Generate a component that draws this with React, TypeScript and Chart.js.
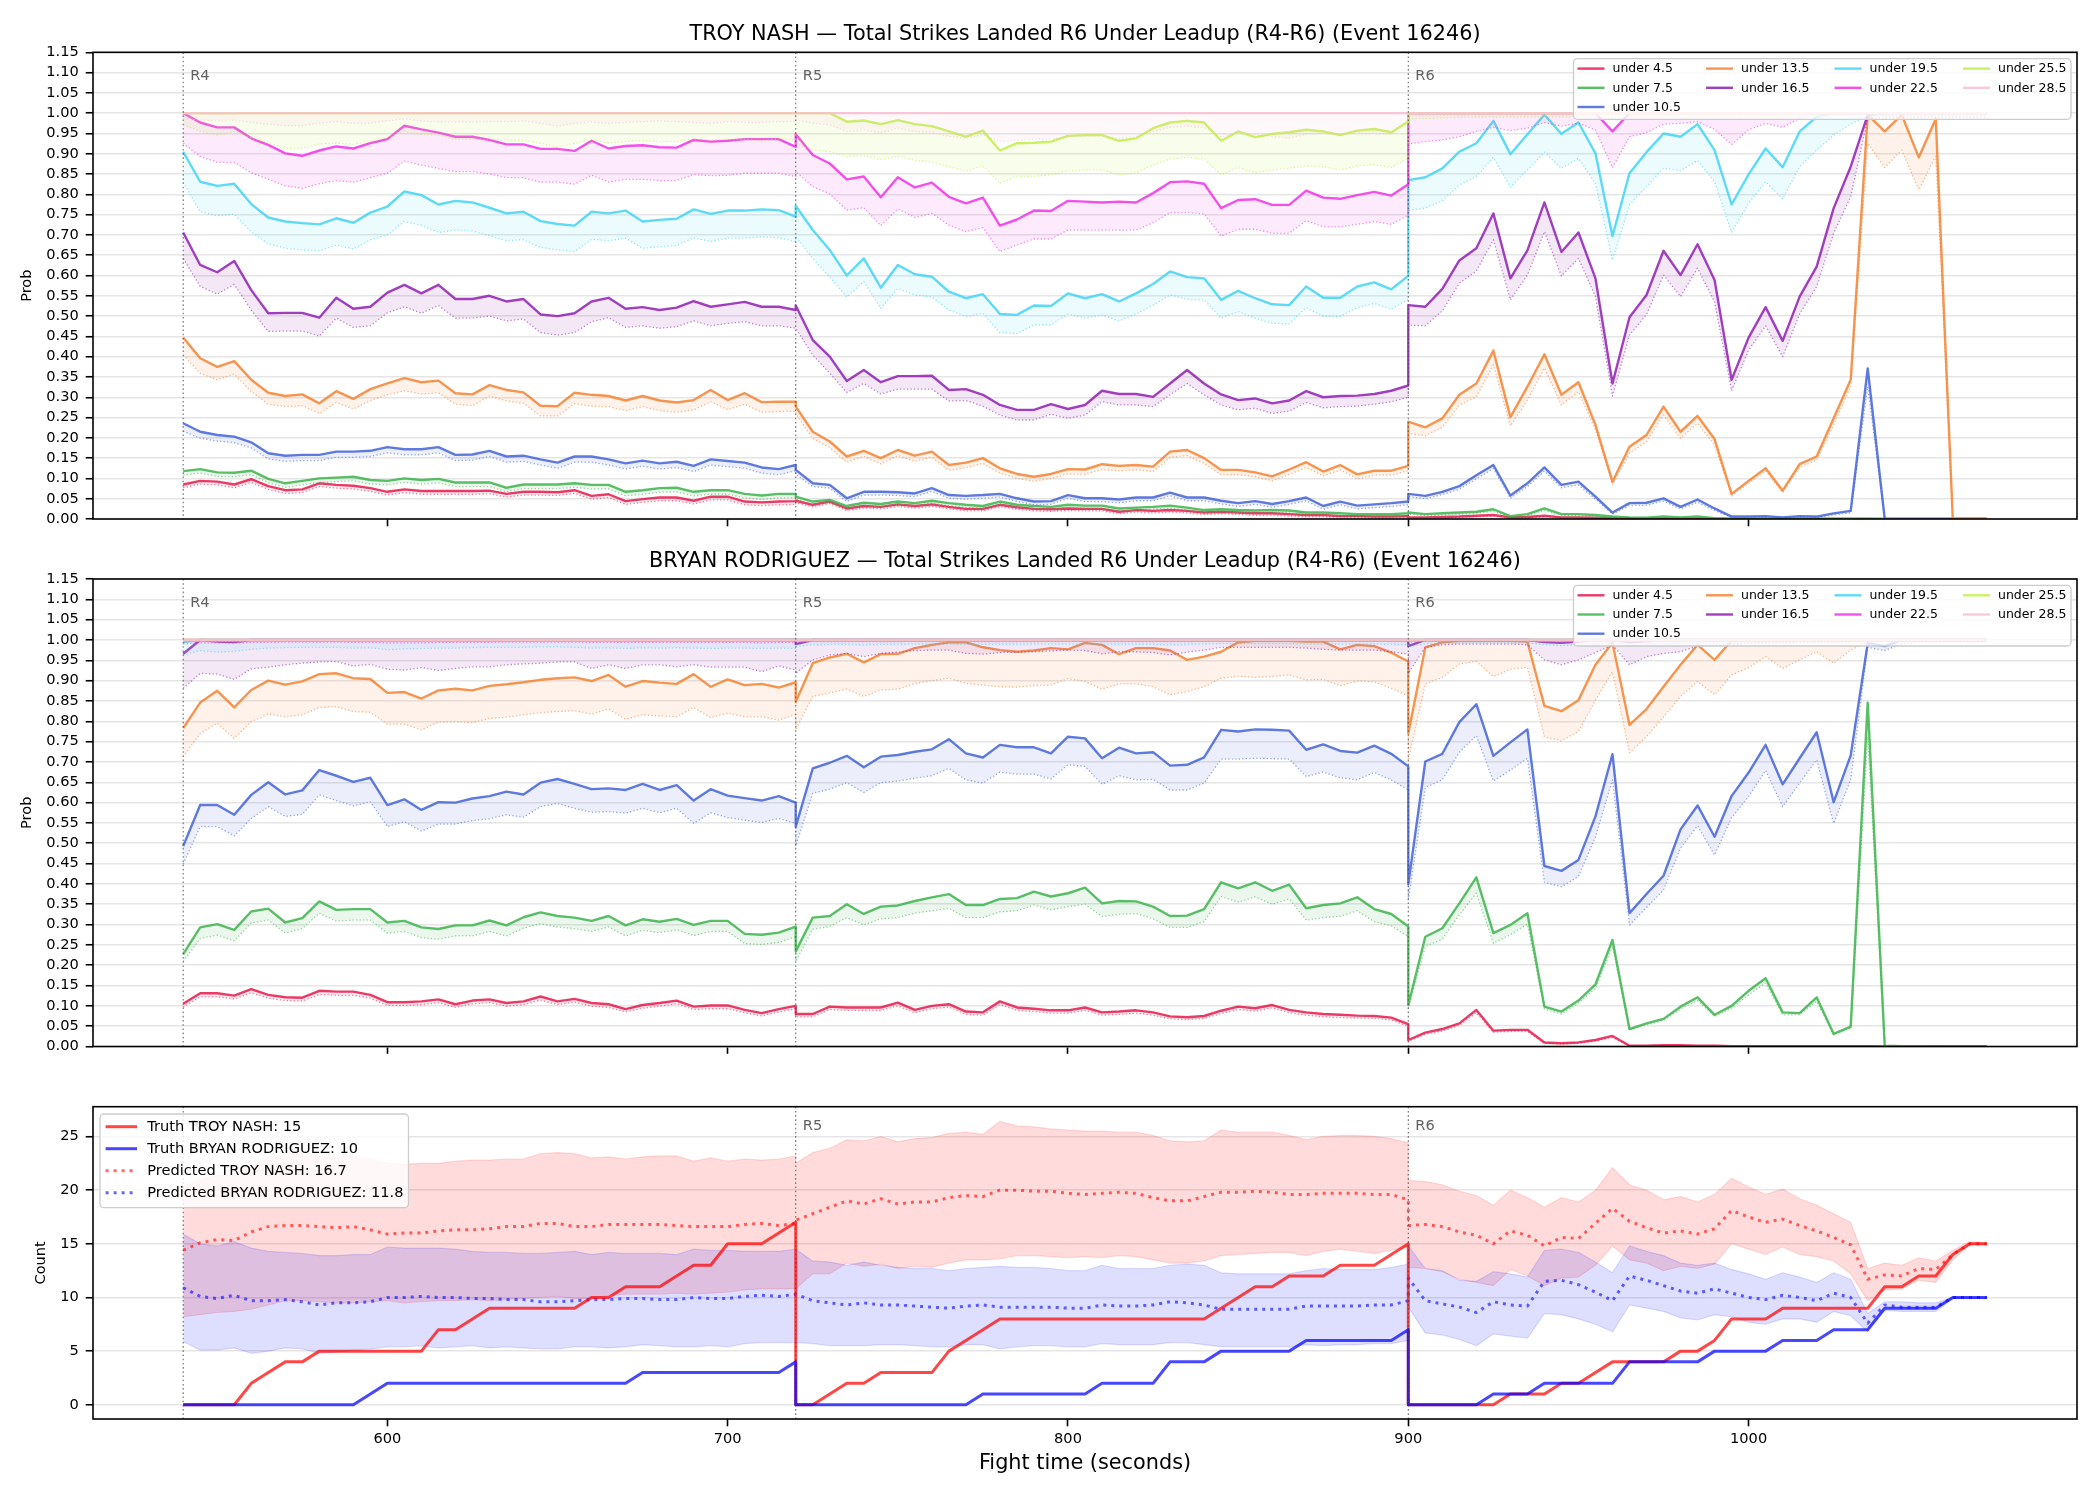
import React, { useEffect, useRef } from "react";
import { Chart, registerables } from "chart.js";

Chart.register(...registerables);

const FONT = "'DejaVu Sans', 'Liberation Sans', sans-serif";

const FIGHTER_A = "TROY NASH";
const FIGHTER_B = "BRYAN RODRIGUEZ";
const EVENT_ID = 16246;

// Fight-time grid (seconds) for each round of the lead-up
const R4_T = [540,545,550,555,560,565,570,575,580,585,590,595,600,605,610,615,620,625,630,635,640,645,650,655,660,665,670,675,680,685,690,695,700,705,710,715,720];
const R5_T = [720,725,730,735,740,745,750,755,760,765,770,775,780,785,790,795,800,805,810,815,820,825,830,835,840,845,850,855,860,865,870,875,880,885,890,895,900];
const R6_T = [900,905,910,915,920,925,930,935,940,945,950,955,960,965,970,975,980,985,990,995,1000,1005,1010,1015,1020,1025,1030,1035,1040,1045,1050,1055,1060,1065,1070];
const ROUND_T = [R4_T, R5_T, R6_T];
const ROUND_STARTS = [540, 720, 900];
const ROUND_LABELS = ["R4", "R5", "R6"];

const X_TICKS = [600, 700, 800, 900, 1000];
const PROB_TICKS = [0,0.05,0.1,0.15,0.2,0.25,0.3,0.35,0.4,0.45,0.5,0.55,0.6,0.65,0.7,0.75,0.8,0.85,0.9,0.95,1,1.05,1.1,1.15];
const COUNT_TICKS = [0, 5, 10, 15, 20, 25];

const THRESHOLDS = ["under 4.5","under 7.5","under 10.5","under 13.5","under 16.5","under 19.5","under 22.5","under 25.5","under 28.5"];
const SERIES_COLORS = ["#e6194b","#3cb44b","#4363d8","#f58231","#911eb4","#42d4f4","#f032e6","#bfef45","#fabed4"];

// ---------------- TROY NASH: P(total < line), model line and lower band ----------------
const TN_U4 = [
  [0.085,0.094,0.092,0.085,0.098,0.081,0.071,0.073,0.088,0.084,0.082,0.076,0.067,0.073,0.069,0.069,0.069,0.069,0.070,0.062,0.067,0.067,0.066,0.071,0.057,0.061,0.044,0.049,0.053,0.053,0.045,0.055,0.055,0.043,0.041,0.043,0.044],
  [0.045,0.035,0.043,0.026,0.032,0.030,0.036,0.032,0.036,0.030,0.025,0.025,0.035,0.029,0.025,0.024,0.026,0.025,0.025,0.018,0.022,0.020,0.022,0.020,0.016,0.018,0.016,0.014,0.014,0.012,0.010,0.010,0.007,0.007,0.006,0.006,0.007],
  [0.004,0.004,0.005,0.006,0.008,0.010,0.004,0.005,0.008,0.004,0.004,0.003,0.002,0.002,0.001,0.002,0.001,0.001,0.001,0,0,0,0,0,0,0,0,0,0,0,0,0,0,0,0],
];
const TN_L4 = [
  [0.077,0.086,0.084,0.077,0.090,0.073,0.063,0.065,0.080,0.076,0.074,0.068,0.059,0.065,0.061,0.061,0.061,0.061,0.062,0.054,0.059,0.059,0.058,0.063,0.049,0.053,0.036,0.041,0.045,0.045,0.037,0.047,0.047,0.035,0.033,0.035,0.036],
  [0.040,0.030,0.038,0.021,0.027,0.025,0.031,0.027,0.031,0.025,0.020,0.020,0.030,0.024,0.020,0.019,0.021,0.020,0.020,0.013,0.017,0.015,0.017,0.015,0.011,0.013,0.011,0.009,0.009,0.007,0.005,0.005,0.003,0.003,0.002,0.002,0.003],
  [0.002,0.002,0.003,0.004,0.005,0.007,0.002,0.003,0.005,0.002,0.002,0.001,0.001,0.001,0,0.001,0,0,0,0,0,0,0,0,0,0,0,0,0,0,0,0,0,0,0],
];
const TN_U7 = [
  [0.118,0.123,0.115,0.114,0.119,0.099,0.088,0.094,0.100,0.102,0.104,0.096,0.094,0.100,0.096,0.099,0.090,0.090,0.090,0.077,0.085,0.085,0.085,0.088,0.084,0.084,0.067,0.071,0.076,0.077,0.067,0.071,0.071,0.062,0.058,0.062,0.062],
  [0.055,0.043,0.047,0.032,0.040,0.037,0.043,0.039,0.045,0.039,0.035,0.032,0.043,0.035,0.032,0.030,0.035,0.033,0.033,0.026,0.028,0.030,0.033,0.028,0.022,0.024,0.022,0.021,0.022,0.021,0.016,0.016,0.014,0.012,0.012,0.012,0.014],
  [0.016,0.012,0.014,0.016,0.018,0.024,0.007,0.012,0.026,0.012,0.012,0.010,0.006,0.004,0.003,0.006,0.004,0.006,0.002,0.001,0.001,0.001,0.001,0.001,0.001,0.001,0.001,0.001,0,0,0,0,0,0,0],
];
const TN_L7 = [
  [0.108,0.113,0.105,0.104,0.109,0.089,0.078,0.084,0.090,0.092,0.094,0.086,0.084,0.090,0.086,0.089,0.080,0.080,0.080,0.067,0.075,0.075,0.075,0.078,0.074,0.074,0.057,0.061,0.066,0.067,0.057,0.061,0.061,0.052,0.048,0.052,0.052],
  [0.049,0.037,0.041,0.026,0.034,0.031,0.037,0.033,0.039,0.033,0.029,0.026,0.037,0.029,0.026,0.024,0.029,0.027,0.027,0.020,0.022,0.024,0.027,0.022,0.016,0.018,0.016,0.015,0.016,0.015,0.010,0.010,0.008,0.007,0.007,0.007,0.008],
  [0.012,0.008,0.010,0.012,0.014,0.019,0.004,0.008,0.021,0.008,0.008,0.007,0.003,0.002,0.001,0.003,0.002,0.003,0.001,0,0,0,0,0,0,0,0,0,0,0,0,0,0,0,0],
];
const TN_U10 = [
  [0.236,0.215,0.207,0.203,0.189,0.162,0.156,0.158,0.158,0.166,0.166,0.168,0.177,0.172,0.172,0.177,0.158,0.159,0.168,0.154,0.156,0.147,0.139,0.154,0.154,0.147,0.137,0.144,0.137,0.141,0.131,0.147,0.143,0.139,0.127,0.123,0.133],
  [0.121,0.088,0.084,0.051,0.067,0.067,0.066,0.063,0.076,0.059,0.057,0.059,0.062,0.051,0.043,0.044,0.059,0.051,0.051,0.048,0.053,0.053,0.065,0.053,0.053,0.045,0.039,0.044,0.037,0.044,0.053,0.032,0.043,0.033,0.036,0.039,0.043],
  [0.062,0.057,0.067,0.081,0.108,0.133,0.058,0.088,0.127,0.084,0.092,0.055,0.016,0.039,0.040,0.051,0.030,0.048,0.026,0.006,0.006,0.007,0.004,0.007,0.006,0.014,0.020,0.371,0,0,0,0,0,0,0],
];
const TN_L10 = [
  [0.216,0.199,0.192,0.188,0.175,0.148,0.142,0.144,0.144,0.152,0.152,0.154,0.163,0.158,0.158,0.163,0.144,0.145,0.154,0.140,0.142,0.133,0.125,0.140,0.140,0.133,0.123,0.130,0.123,0.127,0.117,0.133,0.129,0.125,0.113,0.109,0.119],
  [0.110,0.080,0.076,0.043,0.059,0.059,0.058,0.055,0.068,0.051,0.049,0.051,0.054,0.043,0.035,0.036,0.051,0.043,0.043,0.040,0.045,0.045,0.057,0.045,0.045,0.037,0.031,0.036,0.029,0.036,0.045,0.024,0.035,0.025,0.028,0.031,0.035],
  [0.055,0.050,0.060,0.073,0.099,0.124,0.051,0.080,0.118,0.077,0.084,0.049,0.012,0.033,0.034,0.044,0.025,0.041,0.021,0.004,0.004,0.005,0.002,0.005,0.004,0.010,0.015,0.326,0,0,0,0,0,0,0],
];
const TN_U13 = [
  [0.447,0.396,0.375,0.389,0.343,0.311,0.303,0.307,0.285,0.315,0.296,0.320,0.334,0.347,0.337,0.341,0.310,0.307,0.330,0.318,0.312,0.279,0.278,0.311,0.306,0.303,0.292,0.303,0.292,0.287,0.293,0.318,0.293,0.310,0.288,0.289,0.289],
  [0.277,0.215,0.191,0.154,0.168,0.150,0.170,0.156,0.166,0.133,0.139,0.150,0.125,0.111,0.104,0.111,0.123,0.122,0.135,0.131,0.133,0.129,0.166,0.170,0.150,0.121,0.121,0.115,0.105,0.122,0.140,0.117,0.133,0.110,0.119,0.119,0.131],
  [0.240,0.226,0.248,0.306,0.334,0.415,0.251,0.326,0.406,0.306,0.337,0.232,0.092,0.178,0.207,0.277,0.215,0.254,0.197,0.062,0.094,0.125,0.070,0.135,0.154,0.248,0.343,0.996,0.955,0.996,0.891,0.986,0,0,0],
];
const TN_L13 = [
  [0.404,0.359,0.343,0.357,0.314,0.283,0.277,0.279,0.260,0.287,0.271,0.292,0.306,0.316,0.308,0.311,0.283,0.279,0.303,0.291,0.285,0.254,0.254,0.284,0.278,0.277,0.267,0.277,0.267,0.263,0.269,0.289,0.269,0.283,0.263,0.265,0.265],
  [0.260,0.198,0.176,0.140,0.154,0.136,0.156,0.142,0.152,0.120,0.126,0.137,0.113,0.100,0.093,0.100,0.111,0.110,0.122,0.119,0.121,0.117,0.152,0.156,0.137,0.109,0.109,0.104,0.094,0.110,0.127,0.106,0.121,0.099,0.108,0.108,0.119],
  [0.211,0.205,0.226,0.281,0.301,0.380,0.229,0.293,0.372,0.281,0.314,0.220,0.084,0.162,0.191,0.256,0.199,0.236,0.182,0.057,0.088,0.118,0.065,0.127,0.145,0.232,0.326,0.926,0.866,0.909,0.811,0.894,0,0,0],
];
const TN_U16 = [
  [0.706,0.626,0.608,0.636,0.564,0.507,0.508,0.508,0.496,0.545,0.518,0.523,0.558,0.577,0.556,0.577,0.542,0.542,0.550,0.536,0.542,0.504,0.500,0.507,0.536,0.545,0.518,0.522,0.515,0.521,0.537,0.523,0.529,0.535,0.523,0.523,0.515],
  [0.526,0.441,0.400,0.340,0.367,0.337,0.352,0.352,0.353,0.318,0.320,0.306,0.281,0.269,0.269,0.283,0.271,0.281,0.316,0.308,0.308,0.301,0.334,0.367,0.334,0.307,0.293,0.297,0.285,0.292,0.315,0.300,0.303,0.304,0.308,0.316,0.329],
  [0.527,0.523,0.567,0.637,0.667,0.753,0.593,0.662,0.780,0.658,0.706,0.593,0.334,0.497,0.552,0.661,0.601,0.677,0.589,0.343,0.447,0.522,0.439,0.548,0.622,0.766,0.868,0.996,1,1,1,1,1,1,1],
];
const TN_L16 = [
  [0.642,0.573,0.554,0.578,0.515,0.462,0.463,0.463,0.451,0.495,0.472,0.476,0.508,0.523,0.507,0.526,0.495,0.495,0.500,0.488,0.493,0.459,0.453,0.459,0.486,0.496,0.472,0.476,0.470,0.474,0.488,0.476,0.482,0.486,0.476,0.476,0.470],
  [0.470,0.404,0.359,0.312,0.334,0.308,0.320,0.320,0.320,0.291,0.292,0.278,0.256,0.244,0.244,0.258,0.248,0.256,0.289,0.281,0.281,0.277,0.306,0.334,0.306,0.281,0.269,0.273,0.260,0.266,0.287,0.274,0.277,0.278,0.283,0.289,0.300],
  [0.478,0.476,0.513,0.581,0.611,0.688,0.540,0.601,0.708,0.599,0.642,0.548,0.303,0.453,0.504,0.601,0.548,0.618,0.535,0.316,0.416,0.476,0.400,0.505,0.573,0.704,0.794,0.987,0.990,0.990,0.990,0.990,0.990,0.990,0.990],
];
const TN_U19 = [
  [0.905,0.831,0.821,0.826,0.776,0.743,0.733,0.729,0.726,0.741,0.730,0.755,0.770,0.807,0.798,0.775,0.784,0.780,0.767,0.753,0.757,0.734,0.727,0.723,0.757,0.753,0.760,0.733,0.737,0.740,0.763,0.752,0.760,0.760,0.763,0.761,0.745],
  [0.772,0.712,0.663,0.600,0.642,0.570,0.626,0.603,0.597,0.560,0.544,0.554,0.505,0.503,0.526,0.525,0.556,0.544,0.554,0.536,0.556,0.579,0.610,0.596,0.593,0.540,0.562,0.544,0.529,0.527,0.573,0.545,0.545,0.573,0.583,0.566,0.599],
  [0.835,0.842,0.864,0.905,0.926,0.981,0.899,0.948,0.996,0.949,0.977,0.901,0.697,0.852,0.904,0.950,0.942,0.973,0.909,0.775,0.849,0.913,0.867,0.955,0.991,1,1,1,1,1,1,1,1,1,1],
];
const TN_L19 = [
  [0.830,0.757,0.747,0.751,0.708,0.678,0.667,0.663,0.661,0.675,0.665,0.688,0.700,0.733,0.724,0.706,0.712,0.710,0.698,0.686,0.688,0.669,0.663,0.659,0.689,0.686,0.692,0.667,0.671,0.674,0.693,0.684,0.692,0.692,0.695,0.693,0.684],
  [0.696,0.642,0.596,0.547,0.585,0.519,0.568,0.552,0.547,0.515,0.499,0.507,0.459,0.457,0.478,0.478,0.505,0.495,0.503,0.488,0.505,0.527,0.552,0.541,0.540,0.495,0.511,0.495,0.482,0.481,0.521,0.499,0.499,0.521,0.531,0.517,0.541],
  [0.760,0.766,0.784,0.823,0.844,0.891,0.818,0.860,0.904,0.864,0.889,0.827,0.638,0.774,0.819,0.864,0.858,0.883,0.831,0.706,0.778,0.831,0.789,0.868,0.909,0.946,0.973,0.993,0.997,0.997,0.997,0.997,0.997,0.997,0.997],
];
const TN_U22 = [
  [1.000,0.977,0.965,0.965,0.938,0.922,0.901,0.895,0.908,0.918,0.913,0.926,0.936,0.969,0.960,0.952,0.942,0.942,0.934,0.923,0.923,0.912,0.912,0.907,0.932,0.913,0.919,0.921,0.916,0.915,0.934,0.930,0.932,0.936,0.936,0.936,0.917],
  [0.948,0.897,0.876,0.837,0.844,0.793,0.842,0.817,0.829,0.794,0.778,0.792,0.723,0.738,0.760,0.759,0.784,0.782,0.780,0.782,0.780,0.803,0.830,0.832,0.826,0.766,0.786,0.788,0.774,0.774,0.809,0.792,0.789,0.798,0.806,0.797,0.825],
  [1,1,1,1,1,1,1,1,1,1,1,1,0.955,1,1,1,1,1,1,1,1,1,1,1,1,1,1,1,1,1,1,1,1,1,1],
];
const TN_L22 = [
  [0.926,0.893,0.879,0.879,0.853,0.837,0.821,0.815,0.826,0.834,0.830,0.841,0.852,0.882,0.872,0.864,0.856,0.856,0.850,0.841,0.841,0.830,0.830,0.825,0.847,0.830,0.837,0.837,0.834,0.834,0.849,0.846,0.847,0.852,0.852,0.852,0.844],
  [0.856,0.819,0.801,0.761,0.767,0.723,0.764,0.743,0.753,0.724,0.708,0.718,0.659,0.675,0.690,0.690,0.712,0.712,0.712,0.712,0.712,0.730,0.755,0.755,0.752,0.697,0.714,0.714,0.704,0.704,0.735,0.720,0.720,0.726,0.733,0.726,0.749],
  [0.924,0.930,0.934,0.942,0.955,0.965,0.957,0.963,0.977,0.968,0.975,0.959,0.866,0.942,0.952,0.973,0.975,0.979,0.960,0.923,0.959,0.975,0.965,0.987,0.996,0.998,0.998,0.998,0.998,0.998,0.998,0.998,0.998,0.998,0.998],
];
const TN_U25 = [
  [1,1,1,1,1,1,1,1,1,1,1,1,1,1,1,1,1,1,1,1,1,1,1,1,1,1,1,1,1,1,1,1,1,1,1,1,1],
  [1,1,1,0.979,0.982,0.973,0.983,0.973,0.968,0.955,0.942,0.957,0.908,0.926,0.927,0.930,0.944,0.946,0.946,0.932,0.938,0.963,0.977,0.981,0.977,0.932,0.955,0.941,0.949,0.953,0.959,0.955,0.946,0.957,0.961,0.953,0.979],
  [1,1,1,1,1,1,1,1,1,1,1,1,1,1,1,1,1,1,1,1,1,1,1,1,1,1,1,1,1,1,1,1,1,1,1],
];
const TN_L25 = [
  [0.971,0.955,0.946,0.955,0.938,0.927,0.913,0.913,0.924,0.926,0.923,0.930,0.940,0.955,0.948,0.946,0.936,0.936,0.934,0.934,0.932,0.926,0.916,0.926,0.934,0.926,0.930,0.932,0.930,0.930,0.936,0.934,0.935,0.936,0.930,0.938,0.934],
  [0.925,0.910,0.905,0.893,0.895,0.886,0.893,0.884,0.879,0.868,0.858,0.870,0.827,0.844,0.844,0.848,0.858,0.860,0.860,0.848,0.853,0.872,0.887,0.891,0.887,0.848,0.866,0.853,0.860,0.864,0.870,0.868,0.860,0.870,0.873,0.866,0.889],
  [0.986,0.987,0.988,0.989,0.990,0.990,0.990,0.990,0.991,0.990,0.991,0.990,0.988,0.990,0.991,0.992,0.992,0.992,0.991,0.990,0.991,0.992,0.992,0.993,0.993,0.994,0.994,0.995,0.995,0.995,0.995,0.995,0.995,0.995,0.995],
];
const TN_U28 = [
  [1,1,1,1,1,1,1,1,1,1,1,1,1,1,1,1,1,1,1,1,1,1,1,1,1,1,1,1,1,1,1,1,1,1,1,1,1],
  [1,1,1,1,1,1,1,1,1,1,1,1,1,1,1,1,1,1,1,1,1,1,1,1,1,1,1,1,1,1,1,1,1,1,1,1,1],
  [1,1,1,1,1,1,1,1,1,1,1,1,1,1,1,1,1,1,1,1,1,1,1,1,1,1,1,1,1,1,1,1,1,1,1],
];
const TN_L28 = [
  [0.987,0.983,0.982,0.983,0.977,0.973,0.969,0.969,0.975,0.979,0.975,0.975,0.981,0.986,0.981,0.978,0.978,0.978,0.979,0.979,0.981,0.975,0.968,0.975,0.978,0.975,0.977,0.979,0.981,0.979,0.977,0.975,0.979,0.977,0.977,0.979,0.979],
  [0.983,0.975,0.971,0.955,0.959,0.952,0.963,0.955,0.952,0.943,0.938,0.947,0.930,0.934,0.936,0.936,0.943,0.943,0.944,0.938,0.941,0.955,0.965,0.968,0.965,0.941,0.952,0.947,0.943,0.938,0.948,0.951,0.947,0.951,0.951,0.948,0.986],
  [0.994,0.995,0.995,0.995,0.996,0.996,0.995,0.996,0.996,0.996,0.996,0.995,0.993,0.995,0.996,0.996,0.996,0.997,0.996,0.995,0.996,0.997,0.997,0.997,0.997,0.997,0.998,0.998,0.998,0.998,0.998,0.998,0.998,0.998,0.998],
];

// ---------------- BRYAN RODRIGUEZ ----------------
const BR_U4 = [
  [0.105,0.131,0.131,0.125,0.141,0.127,0.121,0.120,0.137,0.135,0.135,0.127,0.109,0.109,0.111,0.116,0.104,0.113,0.116,0.107,0.111,0.123,0.111,0.117,0.107,0.104,0.092,0.102,0.107,0.113,0.098,0.101,0.101,0.090,0.082,0.092,0.100],
  [0.080,0.080,0.098,0.096,0.096,0.096,0.108,0.090,0.100,0.104,0.086,0.084,0.111,0.096,0.093,0.089,0.089,0.096,0.084,0.086,0.089,0.084,0.074,0.072,0.075,0.088,0.098,0.094,0.102,0.090,0.084,0.080,0.078,0.076,0.075,0.071,0.055],
  [0.016,0.034,0.043,0.057,0.090,0.039,0.041,0.041,0.010,0.008,0.010,0.016,0.026,0.002,0.002,0.003,0.003,0.002,0.002,0.001,0.001,0.001,0.001,0.001,0.001,0.001,0.001,0.001,0,0,0,0,0,0,0],
];
const BR_L4 = [
  [0.097,0.122,0.122,0.117,0.132,0.119,0.113,0.112,0.128,0.126,0.126,0.119,0.101,0.101,0.103,0.108,0.096,0.105,0.108,0.099,0.103,0.114,0.103,0.109,0.099,0.096,0.085,0.094,0.099,0.105,0.091,0.093,0.093,0.083,0.075,0.085,0.093],
  [0.073,0.073,0.091,0.089,0.089,0.089,0.100,0.083,0.093,0.097,0.079,0.077,0.103,0.089,0.086,0.082,0.082,0.089,0.077,0.079,0.082,0.077,0.068,0.066,0.069,0.081,0.091,0.087,0.095,0.083,0.077,0.073,0.071,0.070,0.069,0.065,0.050],
  [0.013,0.030,0.038,0.052,0.083,0.035,0.037,0.037,0.008,0.006,0.008,0.013,0.022,0.001,0.001,0.002,0.002,0.001,0.001,0,0,0,0,0,0,0,0,0,0,0,0,0,0,0,0],
];
const BR_U7 = [
  [0.227,0.293,0.301,0.287,0.332,0.339,0.305,0.316,0.357,0.336,0.338,0.338,0.305,0.309,0.293,0.289,0.298,0.298,0.310,0.298,0.318,0.330,0.321,0.317,0.309,0.321,0.298,0.313,0.307,0.314,0.299,0.309,0.309,0.277,0.275,0.280,0.295],
  [0.234,0.317,0.321,0.350,0.326,0.344,0.347,0.358,0.367,0.375,0.348,0.348,0.363,0.365,0.381,0.369,0.377,0.391,0.352,0.358,0.357,0.344,0.321,0.322,0.338,0.404,0.389,0.404,0.383,0.398,0.340,0.348,0.352,0.367,0.338,0.326,0.295],
  [0.102,0.270,0.291,0.352,0.416,0.279,0.299,0.328,0.098,0.086,0.113,0.153,0.262,0.043,0.057,0.068,0.098,0.121,0.078,0.100,0.137,0.168,0.084,0.082,0.121,0.031,0.049,0.846,0.002,0.001,0.001,0.001,0.001,0.001,0.001],
];
const BR_L7 = [
  [0.209,0.266,0.274,0.260,0.304,0.311,0.279,0.290,0.328,0.308,0.311,0.311,0.279,0.283,0.268,0.264,0.272,0.272,0.283,0.272,0.291,0.302,0.294,0.290,0.283,0.294,0.272,0.286,0.280,0.287,0.273,0.283,0.283,0.253,0.251,0.256,0.270],
  [0.209,0.289,0.295,0.317,0.299,0.314,0.317,0.328,0.334,0.340,0.317,0.317,0.331,0.334,0.348,0.336,0.344,0.350,0.320,0.325,0.327,0.314,0.293,0.293,0.307,0.369,0.355,0.368,0.350,0.363,0.311,0.317,0.320,0.334,0.307,0.297,0.270],
  [0.094,0.246,0.264,0.324,0.377,0.254,0.275,0.301,0.092,0.080,0.107,0.143,0.246,0.041,0.053,0.064,0.092,0.113,0.074,0.094,0.127,0.156,0.078,0.078,0.111,0.029,0.045,0.762,0.001,0,0,0,0,0,0],
];
const BR_U10 = [
  [0.493,0.594,0.594,0.570,0.619,0.650,0.620,0.630,0.680,0.666,0.651,0.661,0.594,0.608,0.582,0.601,0.600,0.610,0.616,0.627,0.620,0.649,0.658,0.646,0.633,0.635,0.631,0.646,0.631,0.643,0.605,0.633,0.617,0.611,0.605,0.616,0.600],
  [0.541,0.684,0.698,0.715,0.687,0.713,0.717,0.725,0.731,0.756,0.721,0.711,0.742,0.736,0.736,0.721,0.762,0.758,0.709,0.735,0.721,0.724,0.691,0.693,0.711,0.779,0.775,0.780,0.779,0.777,0.730,0.743,0.727,0.723,0.740,0.720,0.689],
  [0.400,0.701,0.720,0.798,0.842,0.715,0.748,0.780,0.444,0.432,0.459,0.566,0.719,0.328,0.375,0.420,0.534,0.593,0.516,0.616,0.674,0.742,0.645,0.709,0.773,0.601,0.716,0.992,0.985,1,1,1,1,1,1],
];
const BR_L10 = [
  [0.449,0.541,0.541,0.518,0.561,0.590,0.566,0.571,0.619,0.605,0.592,0.602,0.541,0.553,0.530,0.547,0.547,0.556,0.560,0.570,0.564,0.590,0.598,0.586,0.576,0.578,0.574,0.586,0.575,0.586,0.549,0.575,0.563,0.557,0.551,0.561,0.549],
  [0.493,0.623,0.633,0.649,0.625,0.649,0.653,0.660,0.666,0.684,0.656,0.648,0.675,0.670,0.670,0.658,0.693,0.689,0.645,0.666,0.656,0.657,0.631,0.631,0.648,0.707,0.707,0.709,0.708,0.707,0.664,0.675,0.661,0.656,0.674,0.656,0.631],
  [0.361,0.637,0.656,0.724,0.765,0.653,0.680,0.709,0.404,0.393,0.418,0.516,0.656,0.299,0.342,0.385,0.488,0.543,0.471,0.563,0.615,0.679,0.590,0.648,0.705,0.549,0.656,0.982,0.974,0.990,0.995,0.995,0.995,0.995,0.995],
];
const BR_U13 = [
  [0.783,0.846,0.875,0.834,0.877,0.900,0.890,0.898,0.916,0.918,0.906,0.904,0.870,0.872,0.856,0.876,0.880,0.876,0.887,0.891,0.896,0.902,0.906,0.908,0.899,0.914,0.885,0.899,0.895,0.892,0.916,0.885,0.903,0.889,0.892,0.883,0.896],
  [0.848,0.943,0.957,0.966,0.945,0.965,0.966,0.980,0.988,0.994,0.994,0.982,0.975,0.971,0.974,0.980,0.977,0.993,0.988,0.965,0.980,0.980,0.974,0.951,0.959,0.971,0.994,0.998,0.998,0.998,0.996,0.996,0.977,0.988,0.985,0.969,0.947],
  [0.770,0.982,0.994,0.998,0.998,0.998,0.998,0.996,0.838,0.825,0.852,0.939,0.993,0.791,0.830,0.885,0.939,0.988,0.951,0.998,1,1,1,1,1,1,1,1,1,1,1,1,1,1,1],
];
const BR_L13 = [
  [0.713,0.770,0.795,0.758,0.799,0.818,0.811,0.816,0.834,0.836,0.824,0.822,0.793,0.793,0.779,0.798,0.799,0.797,0.807,0.810,0.816,0.821,0.824,0.826,0.818,0.830,0.805,0.816,0.813,0.811,0.834,0.809,0.820,0.811,0.811,0.803,0.816],
  [0.779,0.861,0.870,0.879,0.861,0.877,0.879,0.893,0.900,0.906,0.893,0.889,0.885,0.884,0.888,0.889,0.905,0.898,0.879,0.892,0.892,0.885,0.865,0.873,0.885,0.906,0.911,0.908,0.910,0.914,0.902,0.903,0.887,0.899,0.897,0.881,0.862],
  [0.705,0.892,0.908,0.941,0.947,0.910,0.928,0.933,0.762,0.752,0.775,0.852,0.922,0.723,0.762,0.811,0.861,0.898,0.865,0.914,0.932,0.959,0.930,0.951,0.971,0.943,0.975,0.996,0.999,0.999,0.999,0.999,0.999,0.999,0.999],
];
const BR_U16 = [
  [0.966,1,0.996,0.995,1,1,1,1,1,1,1,1,1,1,1,1,1,1,1,1,1,1,1,1,1,1,1,1,1,1,1,1,1,1,1,1,1],
  [0.990,1,1,1,1,1,1,1,1,1,1,1,1,1,1,1,1,1,1,1,1,1,1,1,1,1,1,1,1,1,1,1,1,1,1,1,1],
  [0.985,1,1,1,1,1,1,1,0.995,0.993,0.996,1,1,0.995,0.997,1,1,1,1,1,1,1,1,1,1,1,1,1,1,1,1,1,1,1,1],
];
const BR_L16 = [
  [0.881,0.918,0.916,0.903,0.929,0.933,0.939,0.943,0.946,0.947,0.936,0.940,0.928,0.926,0.932,0.925,0.930,0.934,0.934,0.939,0.941,0.943,0.946,0.946,0.930,0.939,0.930,0.939,0.939,0.934,0.939,0.933,0.933,0.933,0.922,0.936,0.926],
  [0.918,0.951,0.963,0.967,0.959,0.967,0.970,0.974,0.975,0.975,0.967,0.965,0.969,0.970,0.971,0.973,0.975,0.974,0.966,0.971,0.971,0.969,0.963,0.970,0.975,0.982,0.982,0.982,0.982,0.982,0.980,0.977,0.975,0.975,0.975,0.971,0.965],
  [0.918,0.982,0.988,0.990,0.990,0.990,0.990,0.988,0.951,0.939,0.951,0.969,0.988,0.939,0.959,0.967,0.971,0.985,0.988,0.990,0.992,0.993,0.993,0.995,0.995,0.995,0.996,0.998,0.998,0.998,0.998,0.998,0.998,0.998,0.998],
];
const BR_U19 = [
  [0.995,1,1,1,1,1,1,1,1,1,1,1,1,1,1,1,1,1,1,1,1,1,1,1,1,1,1,1,1,1,1,1,1,1,1,1,1],
  [1,1,1,1,1,1,1,1,1,1,1,1,1,1,1,1,1,1,1,1,1,1,1,1,1,1,1,1,1,1,1,1,1,1,1,1,1],
  [1,1,1,1,1,1,1,1,1,1,1,1,1,1,1,1,1,1,1,1,1,1,1,1,1,1,1,1,1,1,1,1,1,1,1],
];
const BR_L19 = [
  [0.963,0.974,0.970,0.972,0.977,0.980,0.981,0.982,0.982,0.982,0.980,0.981,0.976,0.978,0.979,0.980,0.980,0.981,0.982,0.982,0.982,0.983,0.983,0.982,0.980,0.981,0.979,0.981,0.980,0.981,0.980,0.979,0.980,0.980,0.979,0.980,0.979],
  [0.984,0.988,0.989,0.989,0.988,0.989,0.989,0.990,0.990,0.990,0.989,0.989,0.989,0.989,0.990,0.990,0.990,0.990,0.989,0.989,0.989,0.989,0.988,0.989,0.990,0.991,0.991,0.991,0.991,0.991,0.990,0.990,0.990,0.990,0.990,0.989,0.988],
  [0.983,0.990,0.992,0.992,0.993,0.993,0.993,0.993,0.988,0.986,0.988,0.990,0.993,0.985,0.988,0.990,0.992,0.994,0.994,0.995,0.995,0.996,0.996,0.996,0.997,0.997,0.997,0.998,0.998,0.998,0.998,0.998,0.998,0.998,0.998],
];
const BR_U22 = [
  [1,1,1,1,1,1,1,1,1,1,1,1,1,1,1,1,1,1,1,1,1,1,1,1,1,1,1,1,1,1,1,1,1,1,1,1,1],
  [1,1,1,1,1,1,1,1,1,1,1,1,1,1,1,1,1,1,1,1,1,1,1,1,1,1,1,1,1,1,1,1,1,1,1,1,1],
  [1,1,1,1,1,1,1,1,1,1,1,1,1,1,1,1,1,1,1,1,1,1,1,1,1,1,1,1,1,1,1,1,1,1,1],
];
const BR_L22 = [
  [0.990,0.993,0.993,0.992,0.994,0.994,0.995,0.995,0.995,0.995,0.994,0.994,0.993,0.993,0.993,0.994,0.994,0.994,0.994,0.995,0.995,0.995,0.995,0.995,0.994,0.994,0.994,0.994,0.994,0.994,0.994,0.994,0.994,0.994,0.993,0.994,0.994],
  [0.994,0.996,0.996,0.996,0.996,0.996,0.996,0.997,0.997,0.997,0.996,0.996,0.996,0.996,0.996,0.997,0.997,0.997,0.996,0.996,0.996,0.996,0.996,0.996,0.997,0.997,0.997,0.997,0.997,0.997,0.997,0.997,0.997,0.997,0.997,0.996,0.996],
  [0.994,0.997,0.997,0.997,0.997,0.997,0.997,0.997,0.996,0.995,0.996,0.997,0.997,0.995,0.996,0.997,0.997,0.998,0.998,0.998,0.998,0.998,0.998,0.998,0.998,0.998,0.998,0.999,0.999,0.999,0.999,0.999,0.999,0.999,0.999],
];
const BR_U25 = [
  [1,1,1,1,1,1,1,1,1,1,1,1,1,1,1,1,1,1,1,1,1,1,1,1,1,1,1,1,1,1,1,1,1,1,1,1,1],
  [1,1,1,1,1,1,1,1,1,1,1,1,1,1,1,1,1,1,1,1,1,1,1,1,1,1,1,1,1,1,1,1,1,1,1,1,1],
  [1,1,1,1,1,1,1,1,1,1,1,1,1,1,1,1,1,1,1,1,1,1,1,1,1,1,1,1,1,1,1,1,1,1,1],
];
const BR_L25 = [
  [0.996,0.997,0.997,0.997,0.998,0.998,0.998,0.998,0.998,0.998,0.998,0.998,0.997,0.997,0.997,0.998,0.998,0.998,0.998,0.998,0.998,0.998,0.998,0.998,0.998,0.998,0.998,0.998,0.998,0.998,0.998,0.998,0.998,0.998,0.997,0.998,0.998],
  [0.998,0.998,0.998,0.998,0.998,0.998,0.998,0.999,0.999,0.999,0.998,0.998,0.998,0.998,0.998,0.999,0.999,0.999,0.998,0.998,0.998,0.998,0.998,0.998,0.999,0.999,0.999,0.999,0.999,0.999,0.999,0.999,0.999,0.999,0.999,0.998,0.998],
  [0.998,0.999,0.999,0.999,0.999,0.999,0.999,0.999,0.998,0.998,0.998,0.999,0.999,0.998,0.998,0.999,0.999,0.999,0.999,0.999,0.999,0.999,0.999,0.999,0.999,0.999,0.999,1,1,1,1,1,1,1,1],
];
const BR_U28 = [
  [1,1,1,1,1,1,1,1,1,1,1,1,1,1,1,1,1,1,1,1,1,1,1,1,1,1,1,1,1,1,1,1,1,1,1,1,1],
  [1,1,1,1,1,1,1,1,1,1,1,1,1,1,1,1,1,1,1,1,1,1,1,1,1,1,1,1,1,1,1,1,1,1,1,1,1],
  [1,1,1,1,1,1,1,1,1,1,1,1,1,1,1,1,1,1,1,1,1,1,1,1,1,1,1,1,1,1,1,1,1,1,1],
];
const BR_L28 = [
  [0.998,0.999,0.999,0.999,0.999,0.999,0.999,0.999,0.999,0.999,0.999,0.999,0.999,0.999,0.999,0.999,0.999,0.999,0.999,0.999,0.999,0.999,0.999,0.999,0.999,0.999,0.999,0.999,0.999,0.999,0.999,0.999,0.999,0.999,0.999,0.999,0.999],
  [0.999,0.999,0.999,0.999,0.999,0.999,0.999,1,1,1,0.999,0.999,0.999,0.999,0.999,1,1,1,0.999,0.999,0.999,0.999,0.999,0.999,1,1,1,1,1,1,1,1,1,1,1,0.999,0.999],
  [0.999,1,1,1,1,1,1,1,0.999,0.999,0.999,1,1,0.999,0.999,1,1,1,1,1,1,1,1,1,1,1,1,1,1,1,1,1,1,1,1],
];

// ---------------- Cumulative strike counts ----------------
const TN_TRUTH = [
  [0,0,0,0,2,3,4,4,5,5,5,5,5,5,5,7,7,8,9,9,9,9,9,9,10,10,11,11,11,12,13,13,15,15,15,16,17],
  [0,0,1,2,2,3,3,3,3,5,6,7,8,8,8,8,8,8,8,8,8,8,8,8,8,9,10,11,11,12,12,12,13,13,13,14,15],
  [0,0,0,0,0,0,1,1,1,2,2,3,4,4,4,4,5,5,6,8,8,8,9,9,9,9,9,9,11,11,12,12,14,15,15],
];
const BR_TRUTH = [
  [0,0,0,0,0,0,0,0,0,0,0,1,2,2,2,2,2,2,2,2,2,2,2,2,2,2,2,3,3,3,3,3,3,3,3,3,4],
  [0,0,0,0,0,0,0,0,0,0,0,1,1,1,1,1,1,1,2,2,2,2,4,4,4,5,5,5,5,5,6,6,6,6,6,6,7],
  [0,0,0,0,0,1,1,1,2,2,2,2,2,4,4,4,4,4,5,5,5,5,6,6,6,7,7,7,9,9,9,9,10,10,10],
];
const TN_PRED = [
  [14.4,15.1,15.4,15.3,16.1,16.6,16.7,16.7,16.6,16.5,16.6,16.3,15.9,16.0,16.0,16.2,16.3,16.3,16.4,16.6,16.6,16.9,16.9,16.6,16.6,16.8,16.8,16.8,16.8,16.7,16.6,16.6,16.6,16.8,16.9,16.7,16.9],
  [17.2,17.8,18.4,19.0,18.7,19.2,18.7,18.9,18.9,19.3,19.5,19.4,20.0,20.0,19.9,19.9,19.7,19.6,19.7,19.8,19.7,19.3,19.0,19.0,19.4,19.8,19.8,19.9,19.8,19.6,19.6,19.7,19.7,19.7,19.6,19.6,19.1],
  [16.7,16.8,16.6,16.1,15.8,15.0,16.2,15.8,14.8,15.6,15.5,16.9,18.3,17.1,16.5,16.0,16.2,15.9,16.4,18.1,17.5,17.0,17.3,16.7,16.2,15.6,14.9,11.7,12.1,12.0,12.7,12.6,14.0,15.0,15.0],
];
const BR_PRED = [
  [10.9,10.1,9.9,10.2,9.7,9.7,9.8,9.6,9.3,9.5,9.5,9.6,10.0,10.0,10.1,10.0,10.0,9.9,9.9,9.8,9.8,9.6,9.6,9.7,9.8,9.8,9.9,9.9,9.8,9.8,10.0,9.9,9.9,10.1,10.2,10.1,10.3],
  [10.3,9.7,9.5,9.3,9.5,9.3,9.3,9.2,9.1,9.0,9.2,9.3,9.1,9.1,9.1,9.1,9.0,9.0,9.3,9.2,9.2,9.3,9.6,9.5,9.3,8.9,8.9,8.9,8.9,8.9,9.2,9.2,9.2,9.2,9.3,9.3,9.7],
  [11.8,9.7,9.4,9.1,8.6,9.6,9.3,9.2,11.5,11.6,11.2,10.5,9.7,12.0,11.6,11.1,10.6,10.4,10.8,10.4,10.0,9.8,10.2,10.0,9.7,10.4,10.0,7.6,9.3,9.1,9.1,9.1,10.0,10.0,10.0],
];
const TN_BAND_HI = [
  [20.3,21.0,21.4,21.4,22.3,23.0,23.3,23.3,23.2,23.1,23.1,22.9,22.5,22.4,22.5,22.5,22.7,22.8,22.8,22.9,22.9,23.4,23.5,23.4,23.0,23.1,22.9,23.1,23.2,23.2,22.7,23.0,22.7,22.9,22.8,22.9,23.2],
  [22.5,23.5,23.9,24.7,24.6,25.0,24.5,24.8,24.9,25.3,25.4,25.2,26.4,26.0,25.9,25.7,25.6,25.5,25.5,25.4,25.4,25.1,24.6,24.5,24.6,25.6,25.4,25.4,25.4,25.1,24.7,25.0,25.1,25.1,25.0,24.8,24.4],
  [20.9,20.8,20.5,19.9,19.5,18.6,20.0,19.3,18.4,19.3,18.9,20.0,22.1,20.5,20.0,19.1,19.4,18.9,19.6,21.1,20.3,19.6,20.1,19.2,18.6,17.8,17.0,12.7,13.2,13.0,13.7,13.4,14.4,15.2,15.1],
];
const TN_BAND_LO = [
  [8.2,8.4,8.6,8.7,8.9,9.3,9.7,9.7,9.6,9.5,9.5,9.6,9.7,9.5,9.6,9.7,9.7,9.8,9.7,9.8,9.9,10.0,10.1,9.9,9.9,10.2,10.3,10.3,10.3,10.4,10.3,10.4,10.5,10.7,10.8,10.8,10.8],
  [10.8,12.2,12.2,13.2,12.9,13.1,12.7,12.9,12.8,13.2,13.5,13.5,13.6,13.9,13.9,13.8,13.7,13.8,13.7,13.9,13.8,13.5,13.2,13.2,13.4,13.9,14.0,14.1,14.2,14.2,13.9,14.3,14.5,14.3,14.1,14.4,14.7],
  [12.8,12.7,12.4,11.7,11.4,11.1,12.6,12.0,11.1,11.8,11.9,13.0,14.8,13.5,13.2,12.5,12.9,12.7,13.1,15.0,14.5,14.0,14.7,14.0,13.8,13.4,12.2,9.7,10.7,10.8,11.6,11.4,13.5,14.9,14.9],
];
const BR_BAND_HI = [
  [15.9,15.0,14.8,15.2,14.6,14.3,14.2,14.1,13.9,13.9,14.0,14.0,14.7,14.6,14.6,14.6,14.5,14.3,14.2,14.2,14.1,14.1,14.2,14.3,14.0,14.2,14.1,14.1,14.1,14.0,14.5,14.4,14.4,14.3,14.3,14.3,14.5],
  [14.5,13.4,13.3,13.0,13.3,13.0,12.8,12.7,12.7,12.5,12.7,12.8,12.9,12.8,12.8,12.7,12.5,12.5,13.0,12.7,12.7,12.7,13.0,13.1,13.0,12.3,12.2,12.2,12.2,12.2,12.5,12.7,12.6,12.6,12.6,12.8,13.1],
  [14.8,12.7,12.5,11.6,11.5,12.4,12.2,11.9,14.4,14.5,14.2,13.3,12.3,14.8,14.3,13.9,13.2,13.0,13.2,12.6,12.2,11.7,12.3,11.9,11.4,12.3,11.7,8.5,9.6,9.6,9.5,9.5,10.0,10.0,10.0],
];
const BR_BAND_LO = [
  [5.9,5.1,5.1,5.3,4.8,5.0,5.3,5.2,4.8,4.9,5.1,5.2,5.4,5.4,5.5,5.3,5.4,5.5,5.3,5.4,5.3,5.2,5.2,5.4,5.4,5.3,5.4,5.6,5.5,5.4,5.4,5.5,5.4,5.7,5.8,5.8,5.8],
  [5.8,5.7,5.5,5.5,5.5,5.6,5.6,5.5,5.4,5.4,5.6,5.6,5.2,5.4,5.5,5.5,5.4,5.4,5.7,5.6,5.6,5.6,5.8,5.8,5.6,5.4,5.4,5.4,5.4,5.4,5.6,5.5,5.6,5.6,5.7,5.7,6.0],
  [9.1,6.7,6.5,6.1,5.5,6.6,6.4,6.2,8.5,8.4,8.0,7.5,6.8,9.3,9.0,8.7,8.1,7.9,8.4,8.2,7.7,7.5,8.0,8.0,7.7,8.7,8.3,6.8,8.8,8.7,8.7,8.7,9.9,9.9,9.9],
];

const TN_LINES = [TN_U4, TN_U7, TN_U10, TN_U13, TN_U16, TN_U19, TN_U22, TN_U25, TN_U28];
const TN_LOWS = [TN_L4, TN_L7, TN_L10, TN_L13, TN_L16, TN_L19, TN_L22, TN_L25, TN_L28];
const BR_LINES = [BR_U4, BR_U7, BR_U10, BR_U13, BR_U16, BR_U19, BR_U22, BR_U25, BR_U28];
const BR_LOWS = [BR_L4, BR_L7, BR_L10, BR_L13, BR_L16, BR_L19, BR_L22, BR_L25, BR_L28];

// ---------------- layout (page pixels) ----------------
const PAGE_W = 2100;
const PLOT_LEFT = 93;
const PLOT_RIGHT = 2077;
const X_MIN = 513.5;
const X_MAX = 1096.5;
const COUNT_MIN = -1.3225;
const COUNT_MAX = 27.7725;

function rgba(hex: string, a: number) {
  const n = parseInt(hex.slice(1), 16);
  return `rgba(${(n >> 16) & 255},${(n >> 8) & 255},${n & 255},${a})`;
}

function toPoints(rounds: number[][]) {
  const pts: { x: number; y: number }[] = [];
  rounds.forEach((vals, r) =>
    vals.forEach((v, i) => {
      const t = ROUND_T[r][i];
      if (t !== undefined) pts.push({ x: t, y: v });
    })
  );
  return pts;
}

const lastOf = (rounds: number[][]) => {
  const r = rounds[rounds.length - 1];
  return r[r.length - 1];
};

function xScale(showLabels: boolean, axisHeight: number) {
  return {
    type: "linear",
    min: X_MIN,
    max: X_MAX,
    afterBuildTicks: (s: any) => {
      s.ticks = X_TICKS.map((v) => ({ value: v }));
    },
    afterFit: (s: any) => {
      s.height = axisHeight;
    },
    ticks: {
      display: showLabels,
      autoSkip: false,
      maxRotation: 0,
      minRotation: 0,
      padding: 4.5,
      color: "#000",
      font: { family: FONT, size: 14.6 },
      callback: (v: any) => String(v),
    },
    grid: {
      drawOnChartArea: false,
      drawTicks: true,
      tickLength: 7.3,
      tickWidth: 1.6,
      tickColor: "#000",
    },
    border: { display: false },
  };
}

function yScale(min: number, max: number, ticks: number[], fmt: (v: number) => string) {
  return {
    type: "linear",
    min,
    max,
    afterBuildTicks: (s: any) => {
      s.ticks = ticks.map((v) => ({ value: v }));
    },
    afterFit: (s: any) => {
      s.width = PLOT_LEFT;
    },
    ticks: {
      autoSkip: false,
      padding: 7,
      color: "#000",
      font: { family: FONT, size: 14.6 },
      callback: (v: any) => fmt(Number(v)),
    },
    grid: {
      color: "#e5e5e5",
      lineWidth: 1.5,
      tickLength: 7.3,
      tickWidth: 1.6,
      tickColor: "#000",
    },
    border: { display: false },
  };
}

type LegendItem = { label: string; color: string; width: number; dash: number[] };

function decorPlugin(opts: {
  title?: string;
  ylabel: string;
  ylabelX: number;
  legend: "prob" | "count";
  xlabel?: string;
  xlabelY?: number;
}) {
  return {
    id: "decor",
    afterDatasetsDraw(chart: any) {
      const { ctx, chartArea: a } = chart;
      const x = chart.scales.x;
      ctx.save();
      ROUND_STARTS.forEach((t, i) => {
        const px = x.getPixelForValue(t);
        ctx.strokeStyle = "rgba(70,70,70,0.8)";
        ctx.lineWidth = 1.1;
        ctx.setLineDash([1.6, 2.6]);
        ctx.beginPath();
        ctx.moveTo(px, a.top);
        ctx.lineTo(px, a.bottom);
        ctx.stroke();
        ctx.setLineDash([]);
        ctx.fillStyle = "rgba(80,80,80,0.9)";
        ctx.font = `14.6px ${FONT}`;
        ctx.textAlign = "left";
        ctx.textBaseline = "alphabetic";
        ctx.fillText(ROUND_LABELS[i], px + 7, a.top + 0.03 * (a.bottom - a.top) + 13.5);
      });
      ctx.restore();
    },
    afterDraw(chart: any) {
      const { ctx, chartArea: a } = chart;
      ctx.save();
      // legend
      if (opts.legend === "prob") {
        const bx = 1573.5, by = a.top + 6.3, bw = 497.5, bh = 60.7;
        ctx.beginPath();
        ctx.roundRect(bx, by, bw, bh, 4);
        ctx.fillStyle = "rgba(255,255,255,0.8)";
        ctx.fill();
        ctx.strokeStyle = "#cccccc";
        ctx.lineWidth = 1.3;
        ctx.stroke();
        THRESHOLDS.forEach((label, k) => {
          const col = k < 3 ? 0 : Math.floor((k - 3) / 2) + 1;
          const row = k < 3 ? k : (k - 3) % 2;
          const hx = 1577.5 + col * 128.5;
          const hy = a.top + 16.3 + row * 19.2;
          ctx.strokeStyle = rgba(SERIES_COLORS[k], 0.85);
          ctx.lineWidth = 2.4;
          ctx.beginPath();
          ctx.moveTo(hx, hy);
          ctx.lineTo(hx + 27, hy);
          ctx.stroke();
          ctx.fillStyle = "#000";
          ctx.font = `12.5px ${FONT}`;
          ctx.textAlign = "left";
          ctx.textBaseline = "middle";
          ctx.fillText(label, hx + 35, hy + 0.5);
        });
      } else {
        const items: LegendItem[] = [
          { label: `Truth ${FIGHTER_A}: ${lastOf(TN_TRUTH)}`, color: "rgba(255,0,0,0.72)", width: 3, dash: [] },
          { label: `Truth ${FIGHTER_B}: ${lastOf(BR_TRUTH)}`, color: "rgba(0,0,255,0.72)", width: 3, dash: [] },
          { label: `Predicted ${FIGHTER_A}: ${TN_PRED[2][0].toFixed(1)}`, color: "rgba(255,0,0,0.6)", width: 3, dash: [3, 5] },
          { label: `Predicted ${FIGHTER_B}: ${BR_PRED[2][0].toFixed(1)}`, color: "rgba(0,0,255,0.6)", width: 3, dash: [3, 5] },
        ];
        const bx = 100, by = a.top + 7.3, bw = 308.5, bh = 93.7;
        ctx.beginPath();
        ctx.roundRect(bx, by, bw, bh, 4);
        ctx.fillStyle = "rgba(255,255,255,0.8)";
        ctx.fill();
        ctx.strokeStyle = "#cccccc";
        ctx.lineWidth = 1.3;
        ctx.stroke();
        items.forEach((it, r) => {
          const hy = a.top + 20 + r * 22;
          ctx.strokeStyle = it.color;
          ctx.lineWidth = it.width;
          ctx.setLineDash(it.dash);
          ctx.beginPath();
          ctx.moveTo(105.6, hy);
          ctx.lineTo(137, hy);
          ctx.stroke();
          ctx.setLineDash([]);
          ctx.fillStyle = "#000";
          ctx.font = `14.6px ${FONT}`;
          ctx.textAlign = "left";
          ctx.textBaseline = "middle";
          ctx.fillText(it.label, 147.2, hy + 0.5);
        });
      }
      // frame
      ctx.strokeStyle = "#000";
      ctx.lineWidth = 1.6;
      ctx.strokeRect(a.left, a.top, a.right - a.left, a.bottom - a.top);
      // title
      if (opts.title) {
        ctx.fillStyle = "#000";
        ctx.font = `20.8px ${FONT}`;
        ctx.textAlign = "center";
        ctx.textBaseline = "alphabetic";
        ctx.fillText(opts.title, (a.left + a.right) / 2, a.top - 12.5);
      }
      // y label
      ctx.save();
      ctx.translate(opts.ylabelX, (a.top + a.bottom) / 2);
      ctx.rotate(-Math.PI / 2);
      ctx.fillStyle = "#000";
      ctx.font = `14.6px ${FONT}`;
      ctx.textAlign = "center";
      ctx.textBaseline = "middle";
      ctx.fillText(opts.ylabel, 0, 0);
      ctx.restore();
      // x label
      if (opts.xlabel && opts.xlabelY !== undefined) {
        ctx.fillStyle = "#000";
        ctx.font = `20.8px ${FONT}`;
        ctx.textAlign = "center";
        ctx.textBaseline = "alphabetic";
        ctx.fillText(opts.xlabel, (a.left + a.right) / 2, opts.xlabelY);
      }
      ctx.restore();
    },
  };
}

function baseOptions(areaTop: number, scales: any) {
  return {
    animation: false,
    responsive: false,
    maintainAspectRatio: false,
    events: [],
    layout: { padding: { top: areaTop, right: PAGE_W - PLOT_RIGHT, left: 0, bottom: 0 } },
    elements: {
      point: { radius: 0 },
      line: { tension: 0, borderJoinStyle: "round", borderCapStyle: "butt" },
    },
    plugins: { legend: { display: false }, tooltip: { enabled: false }, title: { display: false } },
    scales,
  };
}

function probConfig(title: string, lines: number[][][], lows: number[][][], areaTop: number, xAxisH: number) {
  const datasets: any[] = [];
  lines.forEach((s, k) => {
    datasets.push({
      label: THRESHOLDS[k],
      data: toPoints(s),
      borderColor: rgba(SERIES_COLORS[k], 0.85),
      borderWidth: 2.4,
      fill: false,
      order: 100 - k,
    });
    datasets.push({
      label: THRESHOLDS[k] + " low",
      data: toPoints(lows[k]),
      borderColor: rgba(SERIES_COLORS[k], 0.55),
      borderWidth: 1.3,
      borderDash: [1.3, 2.2],
      fill: "-1",
      backgroundColor: rgba(SERIES_COLORS[k], 0.1),
      order: 100 - k,
    });
  });
  return {
    type: "line",
    data: { datasets },
    options: baseOptions(areaTop, {
      x: xScale(false, xAxisH),
      y: yScale(0, 1.15, PROB_TICKS, (v) => v.toFixed(2)),
    }),
    plugins: [decorPlugin({ title, ylabel: "Prob", ylabelX: 27.5, legend: "prob" })],
  };
}

function countConfig(areaTop: number, xAxisH: number, xlabelY: number) {
  const datasets: any[] = [
    { data: toPoints(TN_BAND_HI), borderColor: "rgba(255,0,0,0.13)", borderWidth: 1.2, fill: false, order: 50 },
    { data: toPoints(TN_BAND_LO), borderColor: "rgba(255,0,0,0.13)", borderWidth: 1.2, fill: "-1", backgroundColor: "rgba(255,0,0,0.14)", order: 50 },
    { data: toPoints(BR_BAND_HI), borderColor: "rgba(0,0,255,0.13)", borderWidth: 1.2, fill: false, order: 40 },
    { data: toPoints(BR_BAND_LO), borderColor: "rgba(0,0,255,0.13)", borderWidth: 1.2, fill: "-1", backgroundColor: "rgba(0,0,255,0.13)", order: 40 },
    { data: toPoints(TN_PRED), borderColor: "rgba(255,0,0,0.6)", borderWidth: 3, borderDash: [3, 5], fill: false, order: 30 },
    { data: toPoints(BR_PRED), borderColor: "rgba(0,0,255,0.6)", borderWidth: 3, borderDash: [3, 5], fill: false, order: 20 },
    { data: toPoints(TN_TRUTH), borderColor: "rgba(255,0,0,0.72)", borderWidth: 3, fill: false, order: 10 },
    { data: toPoints(BR_TRUTH), borderColor: "rgba(0,0,255,0.72)", borderWidth: 3, fill: false, order: 0 },
  ];
  return {
    type: "line",
    data: { datasets },
    options: baseOptions(areaTop, {
      x: xScale(true, xAxisH),
      y: yScale(COUNT_MIN, COUNT_MAX, COUNT_TICKS, (v) => String(v)),
    }),
    plugins: [
      decorPlugin({ ylabel: "Count", ylabelX: 41, legend: "count", xlabel: "Fight time (seconds)", xlabelY: xlabelY }),
    ],
  };
}

export default function App() {
  const c1 = useRef<HTMLCanvasElement>(null);
  const c2 = useRef<HTMLCanvasElement>(null);
  const c3 = useRef<HTMLCanvasElement>(null);

  useEffect(() => {
    const titleA = `${FIGHTER_A} — Total Strikes Landed R6 Under Leadup (R4-R6) (Event ${EVENT_ID})`;
    const titleB = `${FIGHTER_B} — Total Strikes Landed R6 Under Leadup (R4-R6) (Event ${EVENT_ID})`;
    const charts = [
      new Chart(c1.current as HTMLCanvasElement, probConfig(titleA, TN_LINES, TN_LOWS, 52.3, 21) as any),
      new Chart(c2.current as HTMLCanvasElement, probConfig(titleB, BR_LINES, BR_LOWS, 39, 43.5) as any),
      new Chart(c3.current as HTMLCanvasElement, countConfig(16.7, 81, 378.5) as any),
    ];
    return () => charts.forEach((c) => c.destroy());
  }, []);

  return (
    <div style={{ position: "absolute", left: 0, top: 0, width: 2100, height: 1500, background: "#fff" }}>
      <canvas ref={c1} width={2100} height={540} style={{ position: "absolute", left: 0, top: 0, width: 2100, height: 540 }} />
      <canvas ref={c2} width={2100} height={550} style={{ position: "absolute", left: 0, top: 540, width: 2100, height: 550 }} />
      <canvas ref={c3} width={2100} height={410} style={{ position: "absolute", left: 0, top: 1090, width: 2100, height: 410 }} />
    </div>
  );
}
